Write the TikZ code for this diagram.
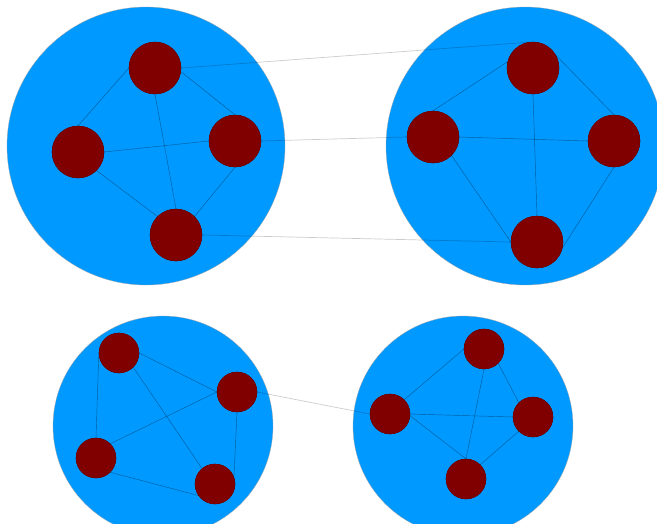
\documentclass[tikz,border=0pt]{standalone}
\begin{document}
\begin{tikzpicture}[x=1pt,y=-1pt,
  cluster/.style={circle,fill=clusterblue,draw=black!35,line width=0.3pt,inner sep=0pt},
  vtx/.style={circle,fill=vtxred,draw=vtxred!80!black,line width=0.3pt,inner sep=0pt,minimum size=#1},
  vtx/.default=52pt,
  inner/.style={draw=black,draw opacity=0.38,line width=0.45pt},
  outer/.style={draw=black,draw opacity=0.2,line width=0.7pt}]
\definecolor{clusterblue}{RGB}{0,153,255}
\definecolor{vtxred}{RGB}{128,0,0}
\useasboundingbox (0,0) rectangle (657,523);
\clip (0,0) rectangle (657,523);
% clusters
\node[cluster,minimum size=278pt] (c1) at (146,146) {};
\node[cluster,minimum size=278pt] (c2) at (525,146) {};
\node[cluster,minimum size=220pt] (c3) at (163,426) {};
\node[cluster,minimum size=220pt] (c4) at (463,426) {};
% vertices, cluster 1
\node[vtx] (at) at (155,68) {};
\node[vtx] (al) at (78,152) {};
\node[vtx] (ar) at (235,141) {};
\node[vtx] (ab) at (176,235) {};
% cluster 2
\node[vtx] (bt) at (533,68) {};
\node[vtx] (bl) at (433,137) {};
\node[vtx] (br) at (614,141) {};
\node[vtx] (bb) at (537,242) {};
% cluster 3
\node[vtx=40pt] (ca) at (119,353) {};
\node[vtx=40pt] (cb) at (237,392) {};
\node[vtx=40pt] (cc) at (96,458) {};
\node[vtx=40pt] (cd) at (215,484) {};
% cluster 4
\node[vtx=40pt] (dt) at (484,349) {};
\node[vtx=40pt] (dl) at (390,414) {};
\node[vtx=40pt] (dr) at (533,417) {};
\node[vtx=40pt] (db) at (466,479) {};
% inner edges
\path[inner] (at.west) -- (al.north);
\path[inner] (at.-8) -- (ar.north);
\path[inner] (at.south) -- (ab.north);
\path[inner] (al.east) -- (ar.west);
\path[inner] (al.-45) -- (ab.135);
\path[inner] (ar.south) -- (ab.45);
\path[inner] (bt.166) -- (bl.north);
\path[inner] (bt.30) -- (br.north);
\path[inner] (bt.south) -- (bb.north);
\path[inner] (bl.east) -- (br.west);
\path[inner] (bl.-45) -- (bb.west);
\path[inner] (br.south) -- (bb.-13);
\path[inner] (ca.east) -- (cb.west);
\path[inner] (ca.west) -- (cc.north);
\path[inner] (ca.-45) -- (cd.130);
\path[inner] (cb.west) -- (cc.45);
\path[inner] (cb.south) -- (cd.20);
\path[inner] (cc.-45) -- (cd.215);
\path[inner] (dt.west) -- (dl.45);
\path[inner] (dt.-45) -- (dr.135);
\path[inner] (dt.south) -- (db.north);
\path[inner] (dl.east) -- (dr.west);
\path[inner] (dl.-5) -- (db.north);
\path[inner] (dr.225) -- (db.45);
% edges between clusters
\path[outer] (at.east) -- (bt.100);
\path[outer] (ar.east) -- (bl.west);
\path[outer] (ab.east) -- (bb.west);
\path[outer] (cb.east) -- (dl.west);
% redraw vertices on top
\foreach \n in {at,al,ar,ab,bt,bl,br,bb}{\node[vtx] at (\n) {};}
\foreach \n in {ca,cb,cc,cd,dt,dl,dr,db}{\node[vtx=40pt] at (\n) {};}
\end{tikzpicture}
\end{document}
